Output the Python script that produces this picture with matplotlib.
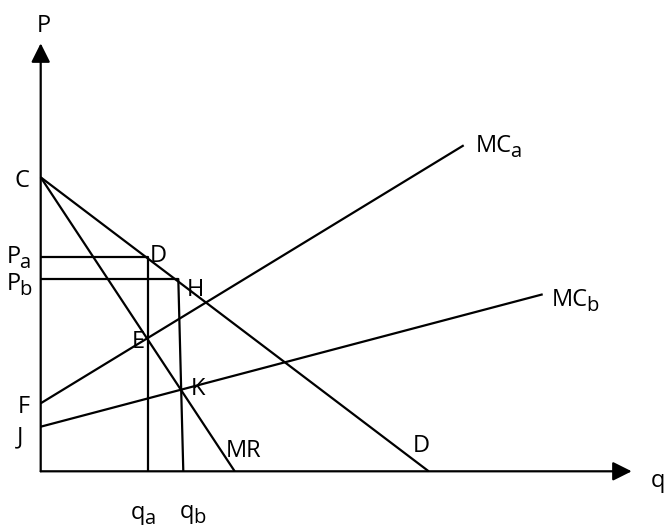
import matplotlib
matplotlib.use("Agg")
from matplotlib import pyplot as plt

plt.rcParams['font.family'] = ['Open Sans', 'DejaVu Sans']

# diagram values (q, P)
C = 29.4            # price intercept of demand and MR
q_demand0 = 38.8    # demand hits q axis
q_mr0 = 19.4        # MR hits q axis
F = 6.8             # MC_a intercept
MCa_end = (42.3, 32.6)
J = 4.46            # MC_b intercept
MCb_end = (50.2, 17.7)
Pa = 21.43
Pb = 19.23
qa = 10.7
qb_top = 13.76
qb_bottom = 14.26
q_max = 59.1
p_max = 42.8

fig = plt.figure(figsize=(6.64, 5.28), dpi=100)
ax = fig.add_axes([0, 0, 1, 1])
ax.set_xlim(-4.07, 62.33)
ax.set_ylim(-5.67, 47.13)
ax.axis("off")

lw = 1.6
k = dict(color="black", lw=lw, solid_capstyle="butt")

# axes with arrows
arr = dict(arrowstyle="-|>,head_length=0.5,head_width=0.25", mutation_scale=23,
           color="black", lw=lw, shrinkA=0, shrinkB=0)
ax.annotate("", xy=(q_max, 0), xytext=(0, 0), arrowprops=arr)
ax.annotate("", xy=(0, p_max), xytext=(0, 0), arrowprops=arr)

# demand, MR, MC lines
ax.plot([0, q_demand0], [C, 0], **k)
ax.plot([0, q_mr0], [C, 0], **k)
ax.plot([0, MCa_end[0]], [F, MCa_end[1]], **k)
ax.plot([0, MCb_end[0]], [J, MCb_end[1]], **k)

# price / quantity guides
ax.plot([0, qa, qa], [Pa, Pa, 0], **k)
ax.plot([0, qb_top, qb_bottom], [Pb, Pb, 0], **k)


def px(x, y):
    return (x - 40.7) / 10, (471.3 - y) / 10


fs = 17
labels = [
    ("P", "", 37, 32), ("q", "", 651, 487),
    ("C", "", 15, 187), ("P", "a", 7, 263), ("P", "b", 7, 290),
    ("D", "", 150, 262), ("H", "", 187, 296), ("E", "", 132, 348), ("K", "", 191, 395),
    ("F", "", 18, 413), ("J", "", 17, 443), ("MR", "", 226, 457), ("D", "", 413, 452),
    ("q", "a", 131, 519), ("q", "b", 180, 518),
    ("MC", "a", 476, 152), ("MC", "b", 552, 306),
]
for s, sub, x, y in labels:
    tx, ty = px(x, y)
    t = ax.text(tx, ty, s, fontsize=fs, ha="left", va="baseline")
    if sub:
        ax.annotate(sub, xy=(1, 0), xycoords=t, xytext=(-1.5, 1),
                    textcoords="offset pixels", fontsize=14.5,
                    ha="left", va="baseline")

plt.savefig("out.png", dpi=100)
